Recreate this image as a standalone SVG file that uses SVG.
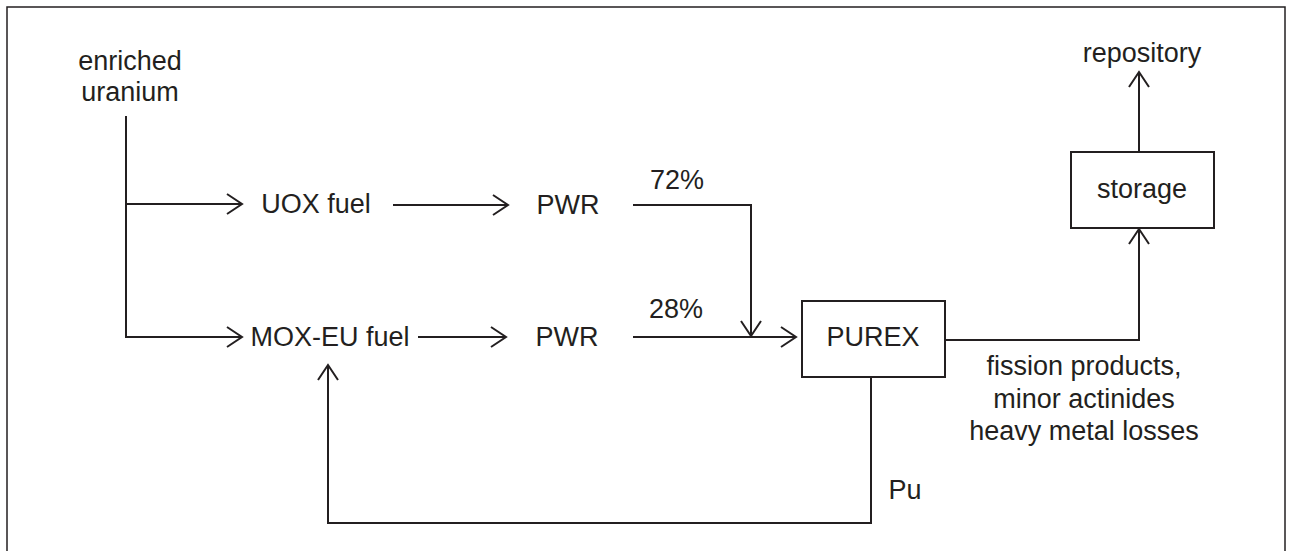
<svg xmlns="http://www.w3.org/2000/svg" width="1289" height="551" viewBox="0 0 1289 551">
  <style>
    text { font-family: "Liberation Sans", Arial, sans-serif; font-size: 27px; fill: #231f20; text-anchor: middle; }
    .box { fill: #fff; stroke: #231f20; stroke-width: 2; }
    .wire { fill: none; stroke: #231f20; stroke-width: 2; }
    .frame { fill: #fff; stroke: #231f20; stroke-width: 1.5; }
  </style>
  <defs>
    <marker id="open" markerUnits="userSpaceOnUse" markerWidth="20" markerHeight="24" viewBox="-17 -12 19 24" refX="0" refY="0" orient="auto">
      <path d="M -15 -10 L 0 0 L -15 10" fill="none" stroke="#231f20" stroke-width="2"/>
    </marker>
  </defs>

  <rect class="frame" x="7" y="7" width="1278" height="560"/>

  <g id="connectors">
    <!-- feed split -->
    <polyline class="wire" points="126,116 126,337 242,337" marker-end="url(#open)"/>
    <line class="wire" x1="126" y1="204" x2="242" y2="204" marker-end="url(#open)"/>
    <!-- fuels to reactors -->
    <line class="wire" x1="393" y1="205" x2="508" y2="205" marker-end="url(#open)"/>
    <line class="wire" x1="418" y1="337" x2="506" y2="337" marker-end="url(#open)"/>
    <!-- reactors to reprocessing -->
    <polyline class="wire" points="633,205 751,205 751,336" marker-end="url(#open)"/>
    <line class="wire" x1="633" y1="337" x2="796" y2="337" marker-end="url(#open)"/>
    <!-- waste stream -->
    <polyline class="wire" points="945,340 1139,340 1139,229" marker-end="url(#open)"/>
    <line class="wire" x1="1139" y1="152" x2="1139" y2="72" marker-end="url(#open)"/>
    <!-- plutonium recycle -->
    <polyline class="wire" points="871,377 871,523 328,523 328,365" marker-end="url(#open)"/>
  </g>

  <g id="enriched-uranium">
    <text x="130" y="70">enriched</text>
    <text x="130" y="101">uranium</text>
  </g>
  <g id="uox-fuel"><text x="316" y="213">UOX fuel</text></g>
  <g id="mox-eu-fuel"><text x="330" y="346">MOX-EU fuel</text></g>
  <g id="pwr-uox"><text x="568" y="214">PWR</text></g>
  <g id="pwr-mox"><text x="567" y="346">PWR</text></g>
  <g id="share-72"><text x="677" y="189">72%</text></g>
  <g id="share-28"><text x="676" y="318">28%</text></g>
  <g id="purex">
    <rect class="box" x="802" y="301" width="143" height="76"/>
    <text x="873" y="346">PUREX</text>
  </g>
  <g id="storage">
    <rect class="box" x="1071" y="152" width="143" height="76"/>
    <text x="1142" y="198">storage</text>
  </g>
  <g id="repository"><text x="1142" y="62">repository</text></g>
  <g id="waste-label">
    <text x="1084" y="375">fission products,</text>
    <text x="1084" y="408">minor actinides</text>
    <text x="1084" y="440">heavy metal losses</text>
  </g>
  <g id="pu-label"><text x="905" y="499">Pu</text></g>
</svg>
